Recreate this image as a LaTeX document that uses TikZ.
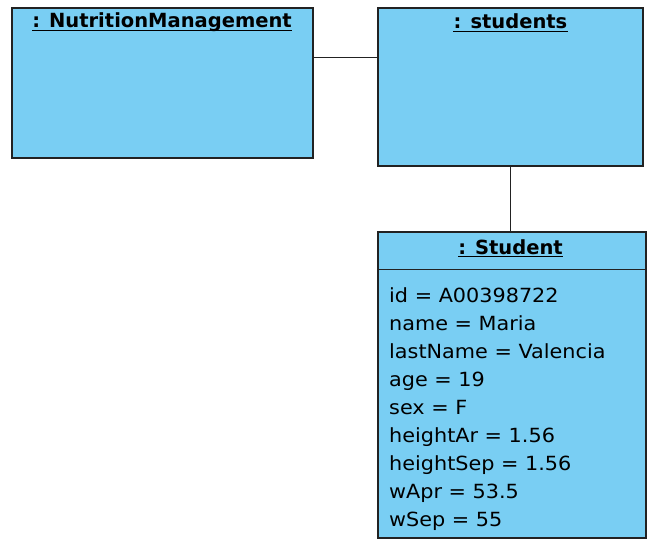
\documentclass[tikz,border=0pt]{standalone}
\usepackage{fontspec}
\newfontfamily\uifont[FakeStretch=1.065]{DejaVu Sans}
\newfontfamily\hdfont{DejaVu Sans}
\definecolor{objfill}{RGB}{121,206,243}
\definecolor{objline}{RGB}{34,34,34}
\tikzset{
  objbox/.style={draw=objline, line width=1.5pt, fill=objfill, rectangle, inner sep=0pt},
  hdtext/.style={font=\hdfont\bfseries\fontsize{19.5}{24}\selectfont, anchor=base, inner sep=0pt, text=black},
  attr/.style={font=\uifont\fontsize{19.5}{24}\selectfont, anchor=base west, inner sep=0pt, text=black},
  link/.style={draw=objline, line width=1.3pt},
  uline/.style={draw=black, line width=1.1pt}
}
\begin{document}
\begin{tikzpicture}[x=1pt,y=-1pt]
\useasboundingbox (0,0) rectangle (660,548);
% boxes
\node[objbox, minimum width=301pt, minimum height=150pt] (nm) at (162.5,83) {};
\node[objbox, minimum width=265pt, minimum height=158pt] (st) at (510.5,87) {};
\node[objbox, minimum width=268pt, minimum height=306pt] (sd) at (512,385) {};
\draw[objline, line width=1.3pt] ([yshift=-38pt]sd.north west) coordinate (sepl) -- (sepl -| sd.east) coordinate (sepr);
% headers
\node[hdtext] (nmt) at (162,28) {: NutritionManagement};
\node[hdtext] (stt) at (510.5,29) {: students};
\node[hdtext] (sdt) at (510.5,254) {: Student};
\foreach \n in {nmt,stt,sdt}{
  \draw[uline] ([yshift=-2.5pt]\n.base west) -- ([yshift=-2.5pt]\n.base east);
}
% attributes
\node[attr] (a1) at (389,302) {id = A00398722};
\node[attr] (a2) at (389,330) {name = Maria};
\node[attr] (a3) at (389,358) {lastName = Valencia};
\node[attr] (a4) at (389,386) {age = 19};
\node[attr] (a5) at (389,414) {sex = F};
\node[attr] (a6) at (389,442) {heightAr = 1.56};
\node[attr] (a7) at (389,470) {heightSep = 1.56};
\node[attr] (a8) at (389,498) {wApr = 53.5};
\node[attr] (a9) at (389,526) {wSep = 55};
% connectors
\draw[link] ([yshift=-50pt]nm.north east) -- ([yshift=-50pt]st.north west);
\draw[link] (st.south) -- (st.south |- sd.north);
\end{tikzpicture}
\end{document}
